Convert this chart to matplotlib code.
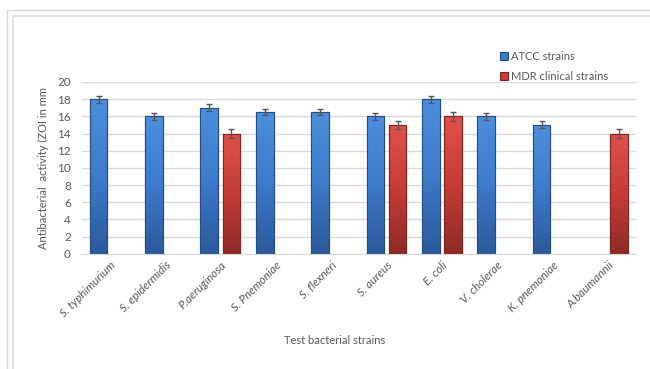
import numpy as np
import matplotlib.pyplot as plt
from matplotlib.colors import LinearSegmentedColormap
from matplotlib.patches import Rectangle

plt.rcParams['font.family'] = ['Lato', 'DejaVu Sans']

strains = ['S. typhimurium', 'S. epidermidis', 'P.aeruginosa', 'S. Pnemoniae',
           'S. flexneri', 'S. aureus', 'E. coli', 'V. cholerae', 'K. pnemoniae',
           'A.baumannii']
atcc = [18, 16, 17, 16.5, 16.5, 16, 18, 16, 15, np.nan]
mdr = [np.nan, np.nan, 14, np.nan, np.nan, 15, 16, np.nan, np.nan, 14]
atcc_err = [0.4, 0.4, 0.4, 0.4, 0.4, 0.4, 0.4, 0.4, 0.4, np.nan]
mdr_err = [np.nan, np.nan, 0.5, np.nan, np.nan, 0.5, 0.5, np.nan, np.nan, 0.5]

GREY = '#595959'
fig = plt.figure(figsize=(6.5, 3.69), dpi=100)
# chart frame
fig.patches.append(Rectangle((7/650, -0.1), 0.99, 1 - 10/369 + 0.1, transform=fig.transFigure,
                             fill=False, ec='#d9d9d9', lw=1))
fig.patches.append(Rectangle((13/650, -0.1), 0.99, 1 - 16/369 + 0.1, transform=fig.transFigure,
                             fill=False, ec='#e3e3e3', lw=1.5))

ax = fig.add_axes([0.126, 0.312, 0.852, 0.466])
x = np.arange(len(strains))
w = 0.32
off = 0.2

blue_cm = LinearSegmentedColormap.from_list('b', ['#4d8fdc', '#3d7acb', '#2b5a9a'])
red_cm = LinearSegmentedColormap.from_list('r', ['#e0504a', '#c63c36', '#8e2a26'])
grad = np.linspace(0, 1, 100).reshape(-1, 1)

for vals, errs, dx, cm, ec, lab in [(atcc, atcc_err, -off, blue_cm, '#244c82', 'ATCC strains'),
                                    (mdr, mdr_err, off, red_cm, '#7e2320', 'MDR clinical strains')]:
    bars = ax.bar(x + dx, vals, w, color=cm(0.5), ec=ec, lw=0.8, label=lab, zorder=2)
    for b in bars:
        h = b.get_height()
        if np.isnan(h) or h == 0:
            continue
        im = ax.imshow(grad, cmap=cm, aspect='auto', zorder=2.5,
                       extent=[b.get_x(), b.get_x() + b.get_width(), 0, h])
        im.set_clip_path(b)
        ax.add_patch(Rectangle((b.get_x(), 0), b.get_width(), h, fill=False, ec=ec, lw=0.8, zorder=2.6))
    ax.errorbar(x + dx, vals, yerr=errs, fmt='none', ecolor='#555555', elinewidth=1,
                capsize=2.5, capthick=1, zorder=3)

ax.set_xlim(-0.5, len(strains) - 0.5)
ax.set_ylim(0, 20)
ax.set_yticks(range(0, 21, 2))
ax.grid(axis='y', color='#d9d9d9', lw=1, zorder=0)
ax.set_axisbelow(True)
for s in ['top', 'right', 'left']:
    ax.spines[s].set_visible(False)
ax.spines['bottom'].set_color('#d9d9d9')
ax.tick_params(axis='both', length=0, colors=GREY, labelsize=8.5)
ax.tick_params(axis='y', pad=8)
ax.tick_params(axis='x', pad=4)
ax.set_xticks(x)
ax.set_xticklabels(strains, rotation=45, ha='right', rotation_mode='anchor',
                   style='italic', fontsize=8.4)
ax.set_ylabel('Antibacterial  activity (ZOI in mm', color=GREY, fontsize=8, labelpad=6)
fig.text(335/650, 1 - 340/369, 'Test bacterial strains', color=GREY, fontsize=8,
         ha='center', va='center')

leg = ax.legend(loc='upper left', bbox_to_anchor=(490/650, 1 - 41/369),
                bbox_transform=fig.transFigure, frameon=False, fontsize=8,
                handlelength=0.7, handleheight=0.7, handletextpad=0.3, labelspacing=0.8)
for t in leg.get_texts():
    t.set_color(GREY)

fig.savefig('out.png', dpi=100)
